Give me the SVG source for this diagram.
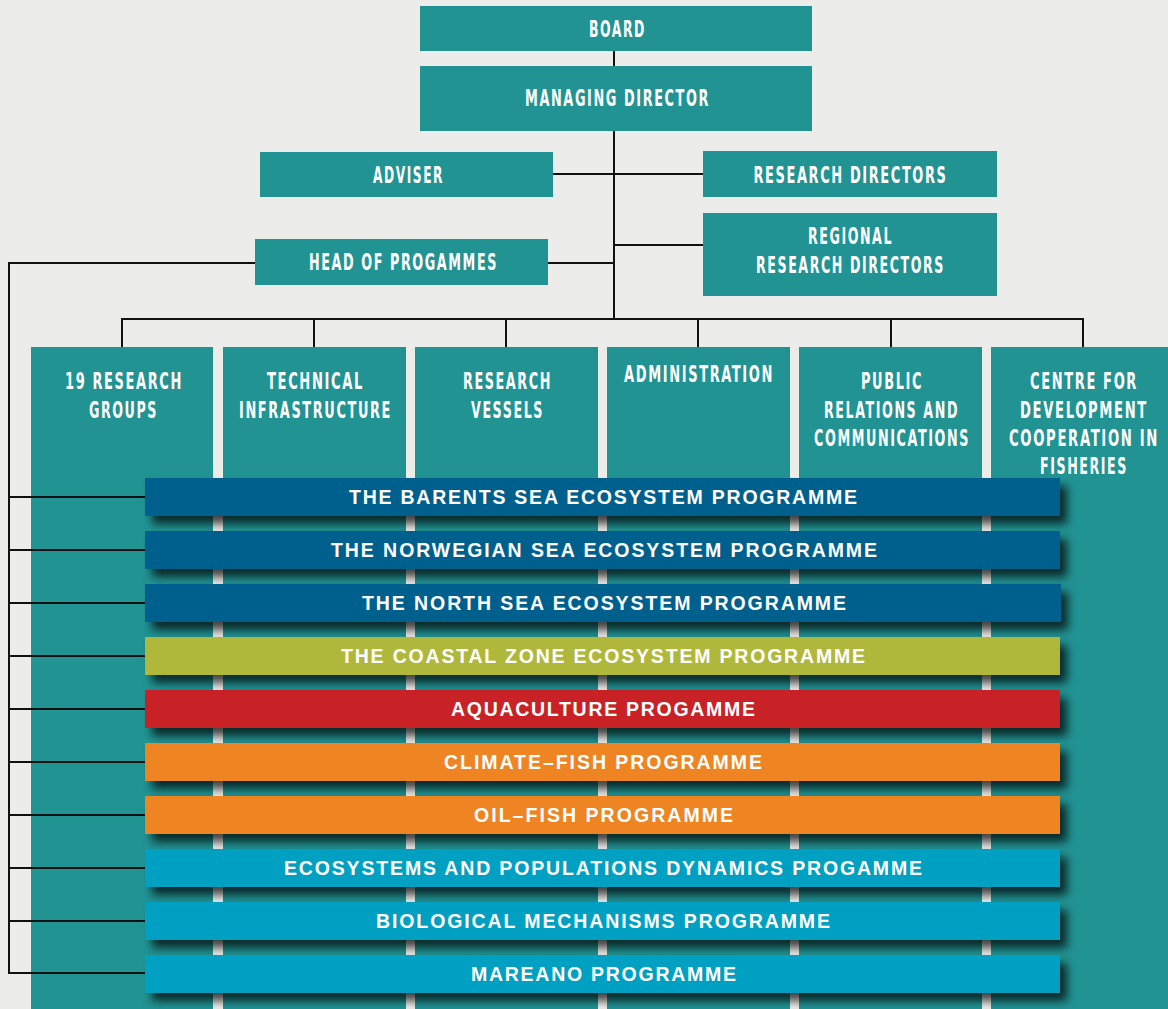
<svg xmlns="http://www.w3.org/2000/svg" width="1168" height="1009" viewBox="0 0 1168 1009">
<defs>
<style>
.bg{fill:#ECECEA}
.box{fill:#219393}
.lbl{font-family:"DejaVu Sans Condensed","DejaVu Sans","Liberation Sans",sans-serif;font-weight:bold;font-size:22.5px;letter-spacing:2.5px;fill:#FFFFFF;text-anchor:middle}
.bt{font-family:"Liberation Sans","Arial",sans-serif;font-weight:bold;font-size:19.5px;fill:#FFFFFF;text-anchor:middle}
.ln{stroke:#111111;stroke-width:2;fill:none}
.bar{filter:url(#sh)}
.blue{fill:#00618D}
.olive{fill:#B0B83A}
.red{fill:#C82127}
.orange{fill:#EE8524}
.lblue{fill:#00A0C3}
</style>
<filter id="sh" x="-5%" y="-60%" width="115%" height="260%">
<feDropShadow dx="7" dy="8" stdDeviation="5" flood-color="#000000" flood-opacity="0.72"/>
</filter>
</defs>
<rect class="bg" x="0" y="0" width="1168" height="1009"/>

<g id="connectors">
<line class="ln" x1="614" y1="51" x2="614" y2="66"/>
<line class="ln" x1="614" y1="131" x2="614" y2="320"/>
<line class="ln" x1="553" y1="174" x2="703" y2="174"/>
<line class="ln" x1="614" y1="245" x2="703" y2="245"/>
<line class="ln" x1="548" y1="263" x2="614" y2="263"/>
<polyline class="ln" points="255,263 9,263 9,974"/>
<polyline class="ln" points="122,347 122,319 1083,319 1083,347"/>
<line class="ln" x1="314" y1="319" x2="314" y2="347"/>
<line class="ln" x1="506" y1="319" x2="506" y2="347"/>
<line class="ln" x1="698" y1="319" x2="698" y2="347"/>
<line class="ln" x1="891" y1="319" x2="891" y2="347"/>
</g>

<g id="board"><rect class="box" x="420" y="6" width="392" height="45"/><text class="lbl" x="617.5" y="36.7" textLength="57" lengthAdjust="spacingAndGlyphs">BOARD</text></g>
<g id="managing-director"><rect class="box" x="420" y="66" width="392" height="65"/><text class="lbl" x="617.5" y="106" textLength="185" lengthAdjust="spacingAndGlyphs">MANAGING DIRECTOR</text></g>
<g id="adviser"><rect class="box" x="260" y="152" width="293" height="45"/><text class="lbl" x="408.5" y="183.3" textLength="71" lengthAdjust="spacingAndGlyphs">ADVISER</text></g>
<g id="research-directors"><rect class="box" x="703" y="151" width="294" height="46"/><text class="lbl" x="850.5" y="183.3" textLength="194" lengthAdjust="spacingAndGlyphs">RESEARCH DIRECTORS</text></g>
<g id="regional-research-directors"><rect class="box" x="703" y="213" width="294" height="83"/><text class="lbl" x="850.5" y="244" textLength="85" lengthAdjust="spacingAndGlyphs">REGIONAL</text><text class="lbl" x="850.5" y="273" textLength="189" lengthAdjust="spacingAndGlyphs">RESEARCH DIRECTORS</text></g>
<g id="head-of-programmes"><rect class="box" x="255" y="239" width="293" height="46"/><text class="lbl" x="403.5" y="270" textLength="189" lengthAdjust="spacingAndGlyphs">HEAD OF PROGAMMES</text></g>

<g id="research-groups"><rect class="box" x="31" y="347" width="182" height="662"/><text class="lbl" x="124" y="388.5" textLength="118" lengthAdjust="spacingAndGlyphs">19 RESEARCH</text><text class="lbl" x="123.5" y="417.5" textLength="69" lengthAdjust="spacingAndGlyphs">GROUPS</text></g>
<g id="technical-infrastructure"><rect class="box" x="223" y="347" width="183" height="662"/><text class="lbl" x="315.5" y="388.5" textLength="97" lengthAdjust="spacingAndGlyphs">TECHNICAL</text><text class="lbl" x="315.5" y="417.5" textLength="153" lengthAdjust="spacingAndGlyphs">INFRASTRUCTURE</text></g>
<g id="research-vessels"><rect class="box" x="415" y="347" width="183" height="662"/><text class="lbl" x="507.5" y="388.5" textLength="89" lengthAdjust="spacingAndGlyphs">RESEARCH</text><text class="lbl" x="507.5" y="417.5" textLength="73" lengthAdjust="spacingAndGlyphs">VESSELS</text></g>
<g id="administration"><rect class="box" x="607" y="347" width="183" height="662"/><text class="lbl" x="699" y="382" textLength="150" lengthAdjust="spacingAndGlyphs">ADMINISTRATION</text></g>
<g id="public-relations"><rect class="box" x="799" y="347" width="183" height="662"/><text class="lbl" x="892" y="388.5" textLength="62" lengthAdjust="spacingAndGlyphs">PUBLIC</text><text class="lbl" x="891.5" y="417.5" textLength="135" lengthAdjust="spacingAndGlyphs">RELATIONS AND</text><text class="lbl" x="892" y="445.5" textLength="156" lengthAdjust="spacingAndGlyphs">COMMUNICATIONS</text></g>
<g id="centre-development"><rect class="box" x="991" y="347" width="177" height="662"/><text class="lbl" x="1084" y="388.5" textLength="108" lengthAdjust="spacingAndGlyphs">CENTRE FOR</text><text class="lbl" x="1084" y="417.5" textLength="128" lengthAdjust="spacingAndGlyphs">DEVELOPMENT</text><text class="lbl" x="1084" y="445.5" textLength="150" lengthAdjust="spacingAndGlyphs">COOPERATION IN</text><text class="lbl" x="1084" y="474.3" textLength="88" lengthAdjust="spacingAndGlyphs">FISHERIES</text></g>

<g id="programme-connectors">
<line class="ln" x1="9" y1="497" x2="145" y2="497"/>
<line class="ln" x1="9" y1="550" x2="145" y2="550"/>
<line class="ln" x1="9" y1="603" x2="145" y2="603"/>
<line class="ln" x1="9" y1="656" x2="145" y2="656"/>
<line class="ln" x1="9" y1="709" x2="145" y2="709"/>
<line class="ln" x1="9" y1="762" x2="145" y2="762"/>
<line class="ln" x1="9" y1="815" x2="145" y2="815"/>
<line class="ln" x1="9" y1="868" x2="145" y2="868"/>
<line class="ln" x1="9" y1="921" x2="145" y2="921"/>
<line class="ln" x1="9" y1="973" x2="145" y2="973"/>
</g>

<g id="barents"><rect class="bar blue" x="145" y="478" width="915" height="38"/><text class="bt" x="603" y="504" textLength="508" lengthAdjust="spacing">THE BARENTS SEA ECOSYSTEM PROGRAMME</text></g>
<g id="norwegian"><rect class="bar blue" x="145" y="531" width="915" height="38"/><text class="bt" x="604" y="557" textLength="546" lengthAdjust="spacing">THE NORWEGIAN SEA ECOSYSTEM PROGRAMME</text></g>
<g id="north-sea"><rect class="bar blue" x="145" y="584" width="916" height="38"/><text class="bt" x="604" y="610" textLength="484" lengthAdjust="spacing">THE NORTH SEA ECOSYSTEM PROGRAMME</text></g>
<g id="coastal"><rect class="bar olive" x="145" y="637" width="915" height="38"/><text class="bt" x="603" y="663" textLength="524" lengthAdjust="spacing">THE COASTAL ZONE ECOSYSTEM PROGRAMME</text></g>
<g id="aquaculture"><rect class="bar red" x="145" y="690" width="915" height="38"/><text class="bt" x="603" y="716" textLength="304" lengthAdjust="spacing">AQUACULTURE PROGAMME</text></g>
<g id="climate-fish"><rect class="bar orange" x="145" y="743" width="915" height="38"/><text class="bt" x="603" y="769" textLength="318" lengthAdjust="spacing">CLIMATE–FISH PROGRAMME</text></g>
<g id="oil-fish"><rect class="bar orange" x="145" y="796" width="915" height="38"/><text class="bt" x="603.5" y="822" textLength="259" lengthAdjust="spacing">OIL–FISH PROGRAMME</text></g>
<g id="ecosystems"><rect class="bar lblue" x="145" y="849" width="915" height="38"/><text class="bt" x="603" y="875" textLength="638" lengthAdjust="spacing">ECOSYSTEMS AND POPULATIONS DYNAMICS PROGAMME</text></g>
<g id="biological"><rect class="bar lblue" x="145" y="902" width="915" height="38"/><text class="bt" x="603" y="928" textLength="454" lengthAdjust="spacing">BIOLOGICAL MECHANISMS PROGRAMME</text></g>
<g id="mareano"><rect class="bar lblue" x="145" y="955" width="915" height="38"/><text class="bt" x="603.5" y="981" textLength="265" lengthAdjust="spacing">MAREANO PROGRAMME</text></g>
</svg>
